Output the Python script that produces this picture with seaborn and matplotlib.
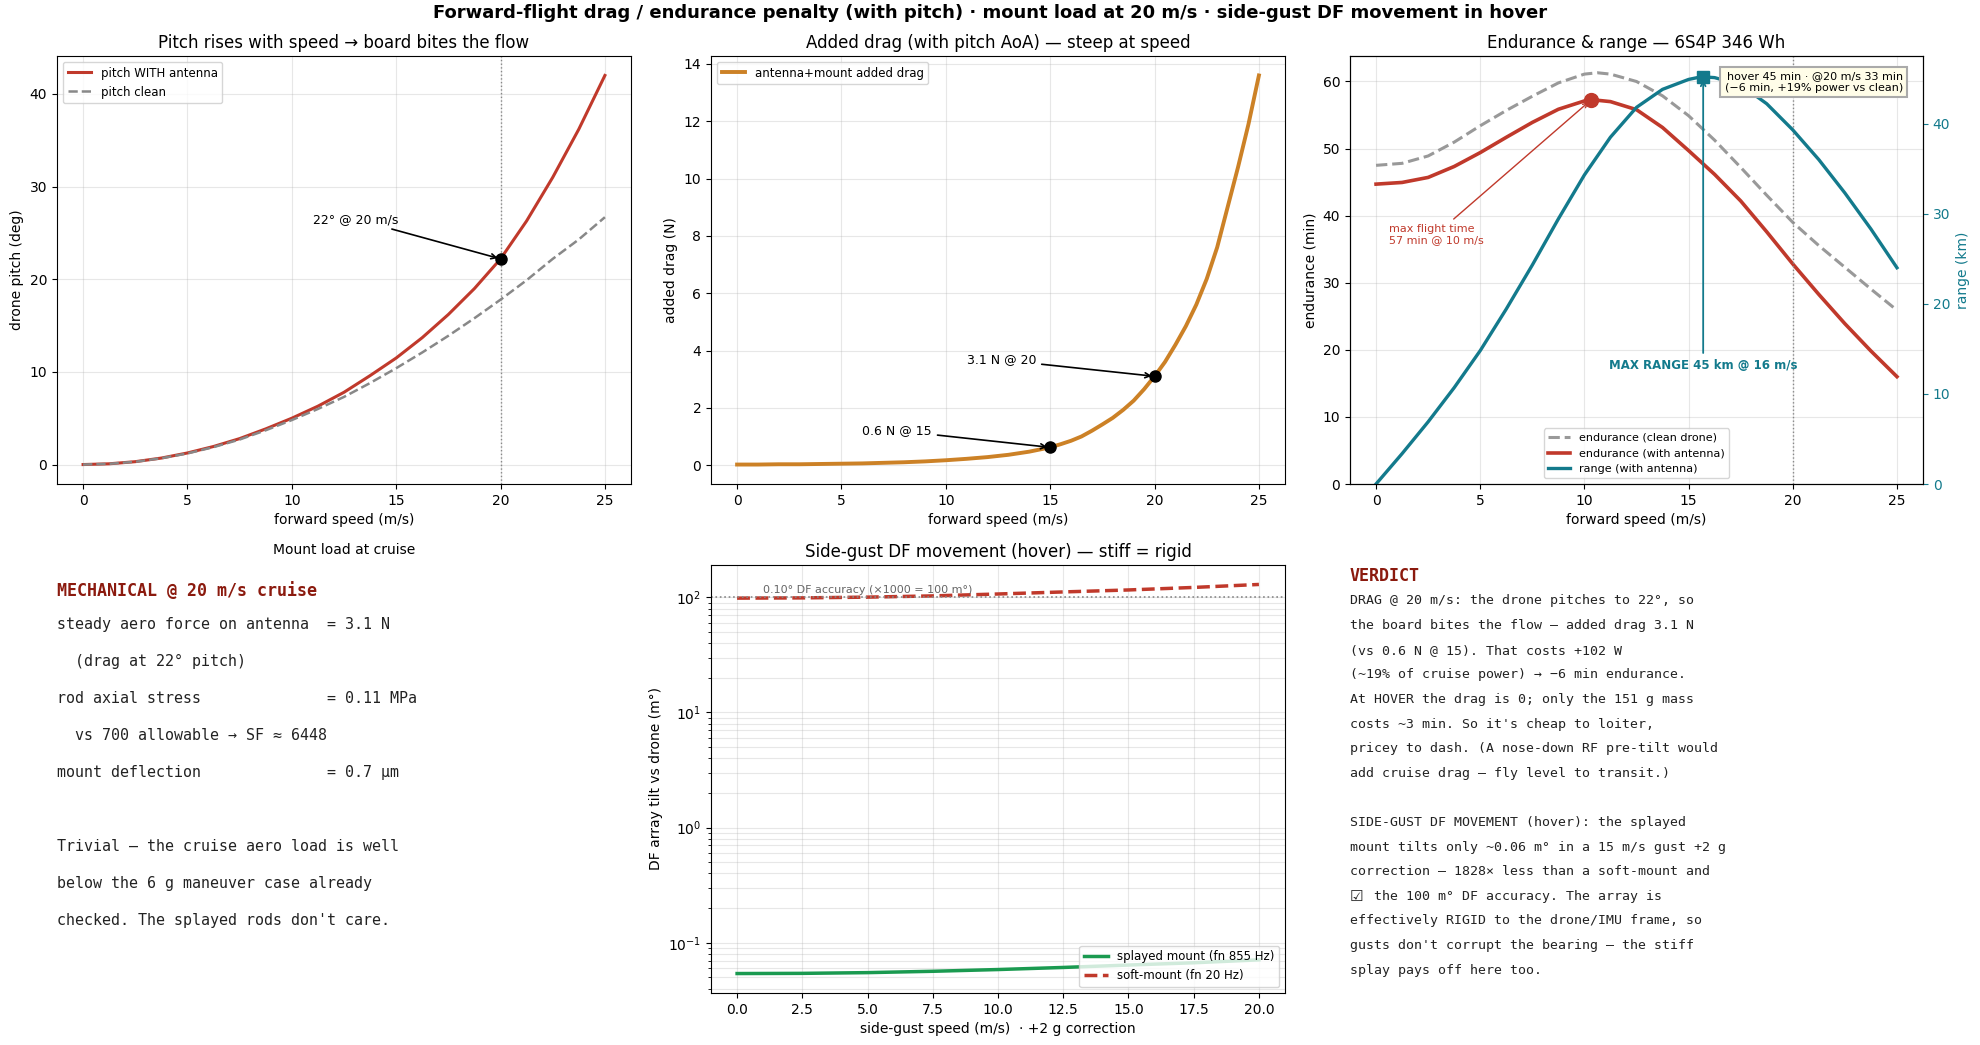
import matplotlib
matplotlib.use("Agg")
import matplotlib.pyplot as plt
import seaborn as sns

# ---- pitch vs forward speed ----
speed_fine = [0, 1.25, 2.5, 3.75, 5, 6.25, 7.5, 8.75, 10, 11.25, 12.5, 13.75,
              15, 16.25, 17.5, 18.75, 20, 21.25, 22.5, 23.75, 25]
pitch_antenna = [0, 0.08, 0.31, 0.7, 1.25, 1.95, 2.8, 3.85, 5.0, 6.3, 7.8, 9.6,
                 11.5, 13.7, 16.2, 19.0, 22.2, 26.3, 31.0, 36.2, 42.0]
pitch_clean = [0, 0.08, 0.3, 0.68, 1.2, 1.88, 2.7, 3.7, 4.8, 6.0, 7.3, 8.8,
               10.4, 12.1, 13.9, 15.8, 17.8, 19.9, 22.2, 24.3, 26.7]
pitch_mark = (20, 22.2)

# ---- added drag ----
speed_drag = [0, 1, 2, 3, 4, 5, 6, 7, 8, 9, 10, 11, 12, 13, 14, 15,
              15.5, 16, 16.5, 17, 17.5, 18, 18.5, 19, 19.5, 20,
              20.5, 21, 21.5, 22, 22.5, 23, 23.5, 24, 24.5, 25]
added_drag = [0.02, 0.02, 0.03, 0.03, 0.04, 0.05, 0.06, 0.08, 0.10, 0.13, 0.17,
              0.22, 0.28, 0.36, 0.47, 0.62,
              0.73, 0.85, 1.0, 1.2, 1.42, 1.65, 1.93, 2.25, 2.65, 3.1,
              3.6, 4.2, 4.85, 5.6, 6.5, 7.6, 9.0, 10.4, 11.9, 13.6]
drag_marks_x = [15, 20]
drag_marks_y = [0.62, 3.1]

# ---- endurance & range ----
speed_endur = [0, 1.25, 2.5, 3.75, 5, 6.25, 7.5, 8.75, 10, 10.625, 11.25, 12.5, 13.75,
               15, 16.25, 17.5, 18.75, 20, 21.25, 22.5, 23.75, 25]
endur_clean = [47.5, 47.8, 48.9, 50.96, 53.4, 55.68, 57.8, 59.79, 61.1, 61.3, 61.1, 60.0,
               57.86, 54.9, 51.25, 47.2, 43.04, 39.0, 35.54, 32.3, 29.06, 25.9]
endur_antenna = [44.7, 44.95, 45.7, 47.33, 49.4, 51.68, 53.9, 55.86, 57.1, 57.2, 57.0, 55.8,
                 53.14, 49.7, 46.15, 42.2, 37.59, 32.8, 28.26, 23.9, 19.83, 16.0]
speed_range = [0, 1.25, 2.5, 3.75, 5, 6.25, 7.5, 8.75, 10, 11.25, 12.5, 13.75,
               15, 15.625, 16.25, 17.5, 18.75, 20, 21.25, 22.5, 23.75, 25]
range_km = [0, 3.37, 6.9, 10.69, 14.8, 19.42, 24.3, 29.42, 34.3, 38.49, 41.8,
            43.8, 44.9, 45.2, 45.1, 44.3, 42.2, 39.3, 36.0, 32.3, 28.3, 24.0]
max_endur = (10.3, 57.2)
max_range = (15.7, 45.2)

# ---- side gust ----
gust_speed = [0, 2.5, 5, 7.5, 10, 12.5, 15, 17.5, 20]
tilt_splayed = [0.054, 0.0542, 0.055, 0.0565, 0.0585, 0.061, 0.064, 0.067, 0.071]
tilt_soft = [98.5, 99.0, 100.5, 103.0, 107.0, 111.5, 116.0, 122.0, 129.5]
df_accuracy = 100

mech_lines = [
    "steady aero force on antenna  = 3.1 N",
    "  (drag at 22° pitch)",
    "rod axial stress              = 0.11 MPa",
    "  vs 700 allowable → SF ≈ 6448",
    "mount deflection              = 0.7 µm",
    "",
    "Trivial — the cruise aero load is well",
    "below the 6 g maneuver case already",
    "checked. The splayed rods don't care.",
]
verdict_lines = [
    "DRAG @ 20 m/s: the drone pitches to 22°, so",
    "the board bites the flow — added drag 3.1 N",
    "(vs 0.6 N @ 15). That costs +102 W",
    "(~19% of cruise power) → −6 min endurance.",
    "At HOVER the drag is 0; only the 151 g mass",
    "costs ~3 min. So it's cheap to loiter,",
    "pricey to dash. (A nose-down RF pre-tilt would",
    "add cruise drag — fly level to transit.)",
    "",
    "SIDE-GUST DF MOVEMENT (hover): the splayed",
    "mount tilts only ~0.06 m° in a 15 m/s gust +2 g",
    "correction — 1828× less than a soft-mount and",
    "the 100 m° DF accuracy. The array is",
    "effectively RIGID to the drone/IMU frame, so",
    "gusts don't corrupt the bearing — the stiff",
    "splay pays off here too.",
]
check_line = 12

RED = "#c0392b"
GREY = "#888888"
TEAL = "#137a8c"
ORANGE = "#cc8126"
GREEN = "#1a9a50"
DARKRED = "#8b1a0e"

fig = plt.figure(figsize=(19.8, 10.45), dpi=100)
W, H = 1980, 1045


def box(l, t, r, b):
    return [l / W, 1 - b / H, (r - l) / W, (b - t) / H]


ax1 = fig.add_axes(box(57, 56, 631, 484))
ax2 = fig.add_axes(box(711, 56, 1285, 484))
ax3 = fig.add_axes(box(1350, 56, 1923, 484))
axm = fig.add_axes(box(57, 565, 631, 993))
ax4 = fig.add_axes(box(711, 565, 1285, 993))
axv = fig.add_axes(box(1350, 565, 1923, 993))

# panel 1 - pitch
sns.lineplot(x=speed_fine, y=pitch_antenna, ax=ax1, color=RED, lw=2.2,
             label="pitch WITH antenna")
sns.lineplot(x=speed_fine, y=pitch_clean, ax=ax1, color=GREY, lw=1.8,
             linestyle="--", label="pitch clean")
ax1.axvline(20, color=GREY, ls=":", lw=1)
ax1.plot(*pitch_mark, "o", color="black", ms=8)
ax1.annotate("22° @ 20 m/s", xy=pitch_mark, xytext=(11.0, 26.5), fontsize=9,
             va="center", arrowprops=dict(arrowstyle="->", color="black", lw=1.2))
ax1.set_title("Pitch rises with speed → board bites the flow", fontsize=12)
ax1.set_xlabel("forward speed (m/s)")
ax1.set_ylabel("drone pitch (deg)")
ax1.grid(alpha=0.3)
ax1.legend(loc="upper left", fontsize=8.5)

# panel 2 - added drag
sns.lineplot(x=speed_drag, y=added_drag, ax=ax2, color=ORANGE, lw=2.8,
             label="antenna+mount added drag")
ax2.plot(drag_marks_x, drag_marks_y, "o", color="black", ms=8)
ax2.annotate("0.6 N @ 15", xy=(drag_marks_x[0], drag_marks_y[0]), xytext=(6.0, 1.2),
             fontsize=9, va="center",
             arrowprops=dict(arrowstyle="->", color="black", lw=1.2))
ax2.annotate("3.1 N @ 20", xy=(drag_marks_x[1], drag_marks_y[1]), xytext=(11.0, 3.67),
             fontsize=9, va="center",
             arrowprops=dict(arrowstyle="->", color="black", lw=1.2))
ax2.set_title("Added drag (with pitch AoA) — steep at speed", fontsize=12)
ax2.set_xlabel("forward speed (m/s)")
ax2.set_ylabel("added drag (N)")
ax2.grid(alpha=0.3)
ax2.legend(loc="upper left", fontsize=8.5)

# panel 3 - endurance & range
ax3r = ax3.twinx()
sns.lineplot(x=speed_endur, y=endur_clean, ax=ax3, color="#999999", lw=2.2,
             linestyle="--", label="endurance (clean drone)", legend=False)
sns.lineplot(x=speed_endur, y=endur_antenna, ax=ax3, color=RED, lw=2.6,
             label="endurance (with antenna)", legend=False)
sns.lineplot(x=speed_range, y=range_km, ax=ax3r, color=TEAL, lw=2.4,
             label="range (with antenna)", legend=False)
ax3.axvline(20, color=GREY, ls=":", lw=1)
ax3.plot(*max_endur, "o", color=RED, ms=10)
ax3r.plot(*max_range, "s", color=TEAL, ms=9)
ax3.annotate("max flight time\n57 min @ 10 m/s", xy=max_endur, xytext=(0.6, 37.2),
             fontsize=8, color=RED, va="center", ha="left",
             arrowprops=dict(arrowstyle="->", color=RED, lw=1))
ax3r.annotate("MAX RANGE 45 km @ 16 m/s", xy=max_range, xytext=(15.7, 13.2),
              fontsize=8.5, color=TEAL, fontweight="bold", ha="center", va="center",
              arrowprops=dict(arrowstyle="->", color=TEAL, lw=1.3))
ax3r.text(0.965, 0.965, "hover 45 min · @20 m/s 33 min\n(−6 min, +19% power vs clean)",
          transform=ax3r.transAxes, ha="right", va="top", fontsize=8,
          bbox=dict(boxstyle="square,pad=0.4", fc="#fffde8", ec="#aaaaaa", lw=1.5))
ax3.set_ylim(0, 63.8)
ax3r.set_ylim(0, 47.5)
ax3.set_title("Endurance & range — 6S4P 346 Wh", fontsize=12)
ax3.set_xlabel("forward speed (m/s)")
ax3.set_ylabel("endurance (min)")
ax3r.set_ylabel("range (km)", color=TEAL)
ax3r.tick_params(axis="y", colors=TEAL)
ax3.grid(alpha=0.3)
h1, l1 = ax3.get_legend_handles_labels()
h2, l2 = ax3r.get_legend_handles_labels()
ax3r.legend(h1 + h2, l1 + l2, loc="lower center", fontsize=8)

# panel 4 - side gust
sns.lineplot(x=gust_speed, y=tilt_splayed, ax=ax4, color=GREEN, lw=2.5,
             label="splayed mount (fn 855 Hz)")
sns.lineplot(x=gust_speed, y=tilt_soft, ax=ax4, color=RED, lw=2.5,
             linestyle="--", label="soft-mount (fn 20 Hz)")
ax4.set_yscale("log")
ax4.axhline(df_accuracy, color=GREY, ls=":", lw=1.2)
ax4.text(1.0, df_accuracy * 1.05, "0.10° DF accuracy (×1000 = 100 m°)",
         fontsize=8, color="#666666", va="bottom")
ax4.set_title("Side-gust DF movement (hover) — stiff = rigid", fontsize=12)
ax4.set_xlabel("side-gust speed (m/s)  · +2 g correction")
ax4.set_ylabel("DF array tilt vs drone (m°)")
ax4.grid(True, which="both", alpha=0.3)
ax4.legend(loc="lower right", fontsize=8.5)

# mechanical text panel
axm.axis("off")
axm.set_title("Mount load at cruise", fontsize=10, pad=8)
axm.text(0, 0.939, "MECHANICAL @ 20 m/s cruise", transform=axm.transAxes,
         family="DejaVu Sans Mono", fontsize=12, fontweight="bold", color=DARKRED,
         va="center")
for i, line in enumerate(mech_lines):
    axm.text(0, 0.860 - 0.0864 * i, line, transform=axm.transAxes,
             family="DejaVu Sans Mono", fontsize=10.8, color="#222222", va="center")

# verdict text panel
axv.axis("off")
axv.text(0, 0.974, "VERDICT", transform=axv.transAxes, family="DejaVu Sans Mono",
         fontsize=12, fontweight="bold", color=DARKRED, va="center")
for i, line in enumerate(verdict_lines):
    # the check-box line starts three mono columns in
    shift = 3 * 0.602 * 9.5 if i == check_line else 0
    axv.annotate(line, xy=(0, 0.916 - 0.0575 * i), xycoords="axes fraction",
                 xytext=(shift, 0), textcoords="offset points",
                 family="DejaVu Sans Mono", fontsize=9.5, color="#222222", va="center")
axv.text(0, 0.916 - 0.0575 * check_line, "☑", transform=axv.transAxes,
         family="DejaVu Sans", fontsize=11, color="#222222", va="center")

fig.suptitle("Forward-flight drag / endurance penalty (with pitch) · mount load at 20 m/s · "
             "side-gust DF movement in hover", fontsize=13, fontweight="bold", y=0.988,
             va="center")

fig.savefig("out.png", dpi=100)
